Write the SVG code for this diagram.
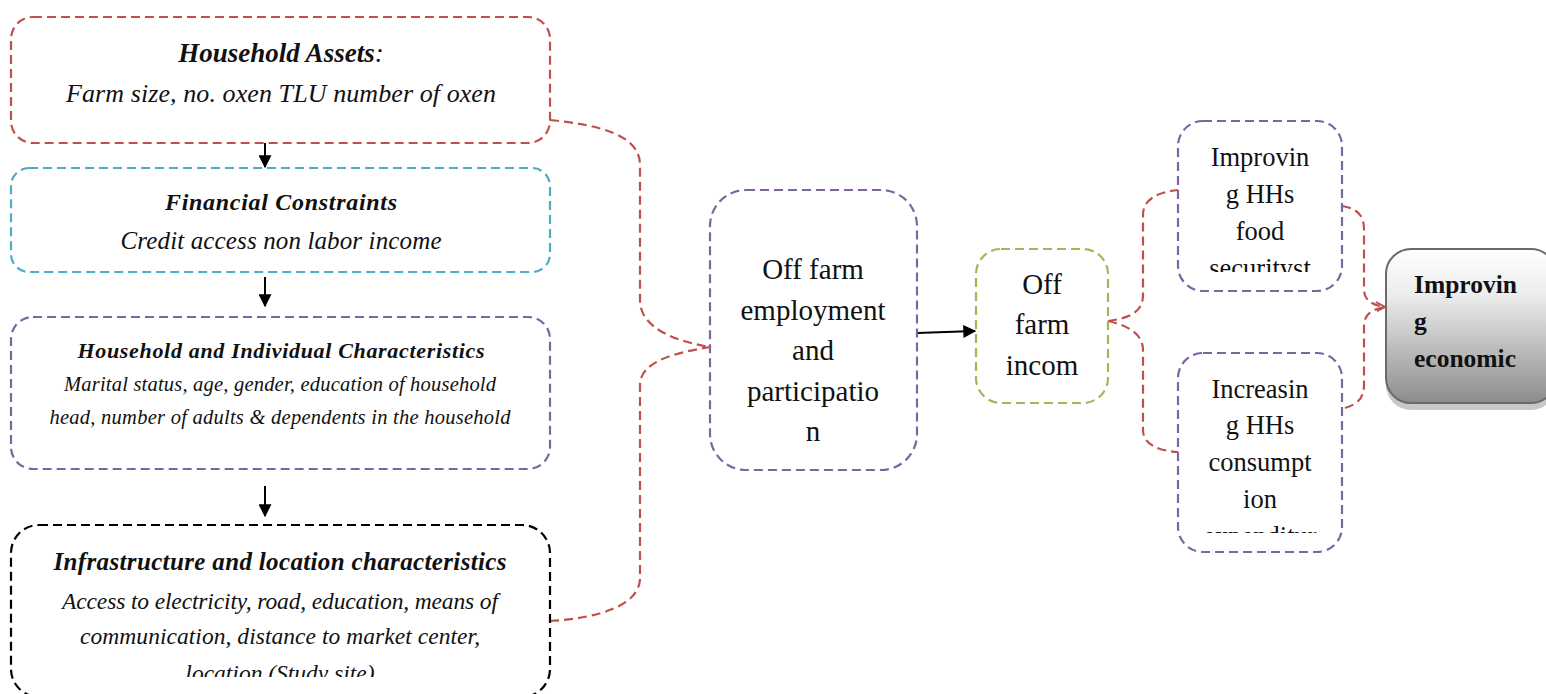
<svg xmlns="http://www.w3.org/2000/svg" width="1546" height="694" viewBox="0 0 1546 694">
  <style>
    .box { fill: #ffffff; stroke-width: 2.2; stroke-dasharray: 9 5; }
    .red { stroke: #c0504d; }
    .cyan { stroke: #4bacc6; }
    .purple { stroke: #8064a2; }
    .black { stroke: #000000; }
    .green { stroke: #9bbb59; }
    .link { fill: none; stroke: #c0504d; stroke-width: 2.2; stroke-dasharray: 9 5; }
    .arrow { fill: none; stroke: #000; stroke-width: 2; }
    .t { font-family: "Liberation Serif", "DejaVu Serif", serif; fill: #111; text-anchor: middle; }
    .left { text-anchor: start; font-weight: bold; font-size: 25.5px; }
    .ti { font-style: italic; }
    .tb { font-weight: bold; font-style: italic; }
    .big { font-size: 29px; }
    .mid { font-size: 26.5px; }
  </style>
  <defs>
    <marker id="head" viewBox="0 0 10 10" refX="9" refY="5" markerWidth="7" markerHeight="6.5" orient="auto" markerUnits="strokeWidth">
      <path d="M0,0 L10,5 L0,10 z" fill="#000"/>
    </marker>
    <linearGradient id="grey" x1="0" y1="0" x2="0" y2="1">
      <stop offset="0" stop-color="#ffffff"/>
      <stop offset="0.3" stop-color="#ececec"/>
      <stop offset="1" stop-color="#8c8c8c"/>
    </linearGradient>
    <clipPath id="clipInfra"><rect x="10" y="525" width="540" height="152"/></clipPath>
    <clipPath id="clipFood"><rect x="1178" y="121" width="164" height="151"/></clipPath>
    <clipPath id="clipCons"><rect x="1178" y="352" width="164" height="181"/></clipPath>
  </defs>

  <!-- connectors -->
  <g id="connectors">
    <path class="link" d="M550,120 C600,125 640,135 640,165 L640,300 C640,330 680,342 710,347"/>
    <path class="link" d="M550,621 C600,618 640,605 640,578 L640,385 C640,360 680,352 710,347"/>
    <path class="link" d="M1108,321 C1130,318 1143,312 1143,295 L1143,215 C1143,198 1160,192 1178,190"/>
    <path class="link" d="M1108,321 C1130,326 1143,335 1143,350 L1143,430 C1143,445 1160,451 1178,452"/>
    <path class="link" d="M1342,206 C1358,209 1364,215 1364,230 L1364,290 C1364,300 1372,305 1385,307"/>
    <path class="link" d="M1345,408 C1358,404 1364,398 1364,385 L1364,325 C1364,315 1372,309 1385,307"/>
    <path d="M1376,302 L1385,307 L1377,311" fill="none" stroke="#c0504d" stroke-width="2"/>
    <line class="arrow" x1="265" y1="139" x2="265" y2="167" marker-end="url(#head)"/>
    <line class="arrow" x1="265" y1="277" x2="265" y2="306" marker-end="url(#head)"/>
    <line class="arrow" x1="265" y1="486" x2="265" y2="516" marker-end="url(#head)"/>
    <line class="arrow" x1="917" y1="333" x2="975" y2="331" marker-end="url(#head)"/>
  </g>

  <g id="household-assets">
    <rect class="box red" x="11" y="17" width="539" height="126" rx="22"/>
    <text class="t tb" x="281" y="62" font-size="27">Household Assets<tspan font-weight="normal">:</tspan></text>
    <text class="t ti" x="281" y="102" font-size="26" textLength="430">Farm size, no. oxen TLU number of oxen</text>
  </g>

  <g id="financial-constraints">
    <rect class="box cyan" x="11" y="168" width="539" height="104" rx="18"/>
    <text class="t tb" x="281" y="210" font-size="24" textLength="232">Financial Constraints</text>
    <text class="t ti" x="281" y="249" font-size="25" textLength="321">Credit access non labor income</text>
  </g>

  <g id="household-individual">
    <rect class="box purple" x="11" y="317" width="539" height="152" rx="22"/>
    <text class="t tb" x="281" y="358" font-size="22" textLength="407">Household and Individual Characteristics</text>
    <text class="t ti" x="280" y="391" font-size="20.5" textLength="432">Marital status, age, gender, education of household</text>
    <text class="t ti" x="280" y="424" font-size="20.5" textLength="461">head, number of adults &amp; dependents in the household</text>
  </g>

  <g id="infrastructure-location">
    <rect class="box black" x="11" y="525" width="539" height="172" rx="28"/>
    <text class="t tb" x="280" y="570" font-size="25" textLength="453">Infrastructure and location characteristics</text>
    <g clip-path="url(#clipInfra)">
      <text class="t ti" x="280" y="609" font-size="23.5" textLength="436">Access to electricity, road, education, means of</text>
      <text class="t ti" x="280" y="644" font-size="23.5" textLength="400">communication, distance to market center,</text>
      <text class="t ti" x="280" y="681" font-size="23.5">location (Study site)</text>
    </g>
  </g>

  <g id="off-farm-participation">
    <rect class="box purple" x="710" y="190" width="207" height="280" rx="36"/>
    <text class="t big" x="813" y="279">Off farm</text>
    <text class="t big" x="813" y="320">employment</text>
    <text class="t big" x="813" y="360">and</text>
    <text class="t big" x="813" y="401">participatio</text>
    <text class="t big" x="813" y="441">n</text>
  </g>

  <g id="off-farm-income">
    <rect class="box green" x="976" y="249" width="132" height="154" rx="25"/>
    <text class="t big" x="1042" y="294">Off</text>
    <text class="t big" x="1042" y="334">farm</text>
    <text class="t big" x="1042" y="375">incom</text>
  </g>

  <g id="food-security">
    <rect class="box purple" x="1178" y="121" width="164" height="170" rx="25"/>
    <g clip-path="url(#clipFood)">
      <text class="t mid" x="1260" y="166">Improvin</text>
      <text class="t mid" x="1260" y="203">g HHs</text>
      <text class="t mid" x="1260" y="240">food</text>
      <text class="t mid" x="1260" y="277">securityst</text>
    </g>
  </g>

  <g id="consumption">
    <rect class="box purple" x="1178" y="353" width="164" height="199" rx="25"/>
    <g clip-path="url(#clipCons)">
      <text class="t mid" x="1260" y="398">Increasin</text>
      <text class="t mid" x="1260" y="434">g HHs</text>
      <text class="t mid" x="1260" y="471">consumpt</text>
      <text class="t mid" x="1260" y="508">ion</text>
      <text class="t mid" x="1260" y="545">expenditur</text>
    </g>
  </g>

  <g id="economic">
    <rect x="1386" y="256" width="170" height="154" rx="25" fill="#c8c8c8"/>
    <rect x="1386" y="249" width="170" height="154" rx="25" fill="url(#grey)" stroke="#6b6b6b" stroke-width="2"/>
    <text class="t left" x="1414" y="293">Improvin</text>
    <text class="t left" x="1414" y="330">g</text>
    <text class="t left" x="1414" y="367">economic</text>
  </g>
</svg>
